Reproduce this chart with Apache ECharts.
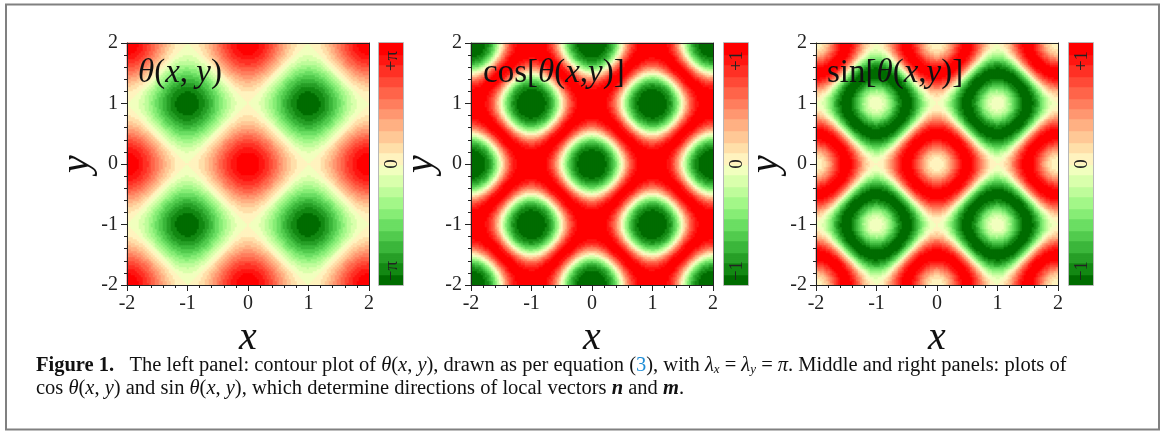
<!DOCTYPE html>
<html>
<head>
<meta charset="utf-8">
<title>Figure 1</title>
<script src="https://cdn.jsdelivr.net/npm/echarts@6/dist/echarts.min.js"></script>
<style>
html, body { margin: 0; padding: 0; background: #fff; }
#main { width: 1163px; height: 432px; }
</style>
</head>
<body>
<div id="main"></div>
<script>
// axes of all three panels
var xRange = [-2, 2];
var yRange = [-2, 2];
var tickStep = 1;

// phase field of eq. (3) with lambda_x = lambda_y = pi:
// amplitude pi/2 per direction, period 2 along x and y
var thetaAmp = Math.PI / 2;
var period = 2;
var samples = 121; // cells per side

// contour bands, lowest level first (22 levels)
var bandColors = [
  "#006c00", "#138813", "#279f27", "#3bb63b", "#52cb4e", "#6bde63",
  "#87ed76", "#a3f788", "#bffc9b", "#d9ffac", "#f1ffbe", "#fff3bf",
  "#ffdfa9", "#ffc896", "#ffb083", "#ff9770", "#ff7e5d", "#ff644a",
  "#ff4a37", "#ff3024", "#ff1611", "#ff0000"
];

var panelRanges = [[-Math.PI, Math.PI], [-1, 1], [-1, 1]];
var barLabels = [["+\u03c0", "0", "\u2212\u03c0"], ["+1", "0", "\u22121"], ["+1", "0", "\u22121"]];

// layout
var plotLeft = [127, 471, 816];
var barLeft = [379, 724, 1069];
var plotTop = 43;
var plotSize = 242;
var barWidth = 24;

var serif = "Liberation Serif";

// sample positions (cell centres)
var cells = [];
var cellNames = [];
for (var i = 0; i < samples; i++) {
  cells.push(xRange[0] + (i + 0.5) * (xRange[1] - xRange[0]) / samples);
  cellNames.push(String(i));
}

function theta(x, y) {
  return thetaAmp * (Math.cos(2 * Math.PI * x / period) + Math.cos(2 * Math.PI * y / period));
}

var thetaData = [], cosData = [], sinData = [];
for (var i = 0; i < samples; i++) {
  for (var j = 0; j < samples; j++) {
    var t = theta(cells[i], yRange[0] + (j + 0.5) * (yRange[1] - yRange[0]) / samples);
    thetaData.push([i, j, t]);
    cosData.push([i, j, Math.cos(t)]);
    sinData.push([i, j, Math.sin(t)]);
  }
}
var panelData = [thetaData, cosData, sinData];

function makePieces(r) {
  var w = (r[1] - r[0]) / bandColors.length;
  return bandColors.map(function (c, k) {
    return { gte: r[0] + k * w - (k === 0 ? 1e-6 : 0), lt: r[0] + (k + 1) * w + (k === bandColors.length - 1 ? 1e-6 : 0), color: c };
  });
}

function barData(r) {
  var d = [];
  for (var k = 0; k < samples; k++) d.push([0, k, r[0] + (k + 0.5) * (r[1] - r[0]) / samples]);
  return d;
}

var grids = [], xAxes = [], yAxes = [], series = [], visualMaps = [], graphics = [];
var tickLabel = { fontFamily: serif, fontSize: 20, color: "#222" };
var nameStyle = { fontFamily: serif, fontStyle: "italic", fontSize: 40, color: "#111" };

for (var p = 0; p < 3; p++) {
  grids.push({ left: plotLeft[p], top: plotTop, width: plotSize, height: plotSize });
  var gx = xAxes.length;
  xAxes.push({ gridIndex: p, type: "category", data: cellNames, show: false });
  xAxes.push({
    gridIndex: p, type: "value", min: xRange[0], max: xRange[1], interval: tickStep, position: "bottom", z: 5,
    axisLine: { onZero: false, lineStyle: { color: "#222", width: 1 } },
    axisTick: { length: 6, lineStyle: { color: "#222" } },
    minorTick: { show: true, splitNumber: 5, length: 3, lineStyle: { color: "#222" } },
    axisLabel: Object.assign({ margin: 9 }, tickLabel),
    splitLine: { show: false },
    name: "x", nameLocation: "middle", nameGap: 24, nameTextStyle: nameStyle
  });
  xAxes.push({
    gridIndex: p, type: "value", min: xRange[0], max: xRange[1], position: "top", z: 5,
    axisLine: { onZero: false, lineStyle: { color: "#222", width: 1 } },
    axisTick: { show: false }, axisLabel: { show: false }, splitLine: { show: false }
  });
  var gy = yAxes.length;
  yAxes.push({ gridIndex: p, type: "category", data: cellNames, show: false });
  yAxes.push({
    gridIndex: p, type: "value", min: yRange[0], max: yRange[1], interval: tickStep, position: "left", z: 5,
    axisLine: { onZero: false, lineStyle: { color: "#222", width: 1 } },
    axisTick: { length: 6, lineStyle: { color: "#222" } },
    minorTick: { show: true, splitNumber: 5, length: 3, lineStyle: { color: "#222" } },
    axisLabel: Object.assign({ margin: 9 }, tickLabel),
    splitLine: { show: false },
    name: "y", nameLocation: "middle", nameGap: 25, nameTextStyle: nameStyle
  });
  yAxes.push({
    gridIndex: p, type: "value", min: yRange[0], max: yRange[1], position: "right", z: 5,
    axisLine: { onZero: false, lineStyle: { color: "#222", width: 1 } },
    axisTick: { show: false }, axisLabel: { show: false }, splitLine: { show: false }
  });
  series.push({
    type: "heatmap", xAxisIndex: gx, yAxisIndex: gy, data: panelData[p],
    progressive: 0, silent: true, emphasis: { disabled: true }, itemStyle: { borderWidth: 0 }
  });
}

// colour bars
for (var p = 0; p < 3; p++) {
  grids.push({ left: barLeft[p], top: plotTop, width: barWidth, height: plotSize });
  var bx = xAxes.length, by = yAxes.length;
  xAxes.push({ gridIndex: 3 + p, type: "category", data: ["0"], show: false });
  yAxes.push({ gridIndex: 3 + p, type: "category", data: cellNames, show: false });
  series.push({
    type: "heatmap", xAxisIndex: bx, yAxisIndex: by, data: barData(panelRanges[p]),
    progressive: 0, silent: true, emphasis: { disabled: true }, itemStyle: { borderWidth: 0 }
  });
  visualMaps.push({
    type: "piecewise", show: false, dimension: 2, seriesIndex: [p, 3 + p], pieces: makePieces(panelRanges[p])
  });
  graphics.push({
    type: "rect", z: 50, silent: true,
    shape: { x: barLeft[p] - 0.5, y: plotTop - 0.5, width: barWidth + 1, height: plotSize + 1 },
    style: { fill: null, stroke: "#b8b8b8", lineWidth: 1 }
  });
  var labelY = [plotTop + 18, plotTop + plotSize / 2, plotTop + plotSize - 14];
  for (var k = 0; k < 3; k++) {
    graphics.push({
      type: "text", z: 60, silent: true, x: barLeft[p] + barWidth / 2 + 1, y: labelY[k], rotation: Math.PI / 2,
      style: { text: barLabels[p][k], fontFamily: serif, fontSize: 19, fill: "#222", align: "center", verticalAlign: "middle" }
    });
  }
}

// panel titles
var titleRich = {
  r: { fontFamily: serif, fontSize: 33, fill: "#111" },
  i: { fontFamily: serif, fontSize: 33, fontStyle: "italic", fill: "#111" }
};
var panelTitles = [
  "{i|\u03b8}{r|(}{i|x}{r|, }{i|y}{r|)}",
  "{r|cos[}{i|\u03b8}{r|(}{i|x}{r|,}{i|y}{r|)]}",
  "{r|sin[}{i|\u03b8}{r|(}{i|x}{r|,}{i|y}{r|)]}"
];
var titleLeft = [138, 483, 827];
for (var p = 0; p < 3; p++) {
  graphics.push({
    type: "text", z: 60, silent: true, x: titleLeft[p], y: 73,
    style: { text: panelTitles[p], rich: titleRich, verticalAlign: "middle", align: "left" }
  });
}

// caption
var capSize = 20.5;
var capRich = {
  b: { fontFamily: serif, fontSize: capSize, fontWeight: "bold", fill: "#111" },
  r: { fontFamily: serif, fontSize: capSize, fill: "#111" },
  i: { fontFamily: serif, fontSize: capSize, fontStyle: "italic", fill: "#111" },
  bi: { fontFamily: serif, fontSize: capSize, fontStyle: "italic", fontWeight: "bold", fill: "#111" },
  s: { fontFamily: serif, fontSize: 13, fontStyle: "italic", fill: "#111", verticalAlign: "bottom" },
  blue: { fontFamily: serif, fontSize: capSize, fill: "#1f8dd6" }
};
var capLine1 = "{b|Figure 1.}{r|   The left panel: contour plot of }{i|\u03b8}{r|(}{i|x}{r|, }{i|y}{r|), drawn as per equation (}{blue|3}{r|), with }{i|\u03bb}{s|x}{r| = }{i|\u03bb}{s|y}{r| = }{i|\u03c0}{r|. Middle and right panels: plots of}";
var capLine2 = "{r|cos }{i|\u03b8}{r|(}{i|x}{r|, }{i|y}{r|) and sin }{i|\u03b8}{r|(}{i|x}{r|, }{i|y}{r|), which determine directions of local vectors }{bi|n}{r| and }{bi|m}{r|.}";
graphics.push({ type: "text", silent: true, x: 36, y: 366, style: { text: capLine1, rich: capRich, verticalAlign: "middle" } });
graphics.push({ type: "text", silent: true, x: 36, y: 389, style: { text: capLine2, rich: capRich, verticalAlign: "middle" } });

// figure frame
graphics.push({
  type: "rect", silent: true, z: 0,
  shape: { x: 6, y: 4.5, width: 1153, height: 425 },
  style: { fill: null, stroke: "#808080", lineWidth: 2 }
});

var myChart = echarts.init(document.getElementById("main"), null, { renderer: "canvas" });
myChart.setOption({
  animation: false,
  backgroundColor: "#fff",
  grid: grids,
  xAxis: xAxes,
  yAxis: yAxes,
  visualMap: visualMaps,
  series: series,
  graphic: graphics
});
</script>
</body>
</html>
